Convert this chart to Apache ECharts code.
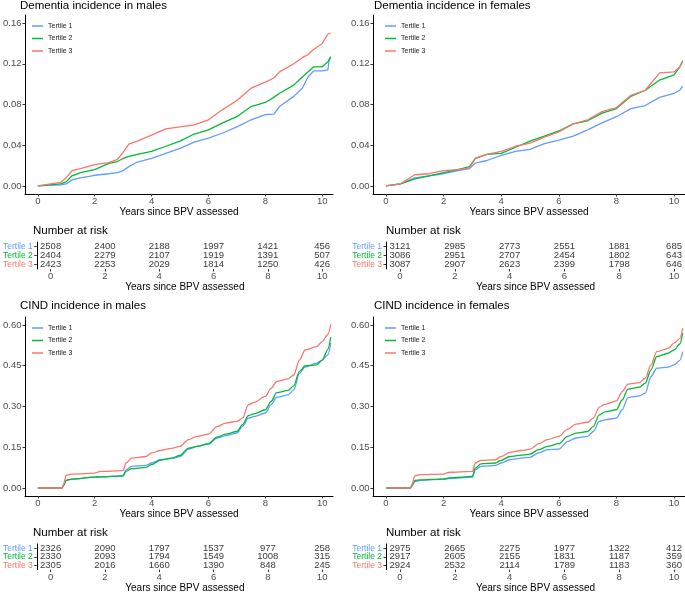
<!DOCTYPE html>
<html>
<head>
<meta charset="utf-8">
<script src="https://cdn.jsdelivr.net/npm/echarts@6/dist/echarts.min.js"></script>
<style>
html,body{margin:0;padding:0;background:#fff;}
#chart{width:685px;height:594px;}
</style>
</head>
<body>
<div id="chart"></div>
<script>
// ---------- DATA ----------
const tertiles = ['Tertile 1', 'Tertile 2', 'Tertile 3'];
const xTickValues = [0, 2, 4, 6, 8, 10];
const demYTicks = [0, 0.04, 0.08, 0.12, 0.16];
const cindYTicks = [0, 0.15, 0.30, 0.45, 0.60];

// Dementia incidence in males
const demMaleX  = [0, 0.8, 1.0, 1.2, 1.5, 2.0, 2.5, 2.8, 3.0, 3.2, 3.5, 4.0, 4.5, 5.0, 5.5, 6.0, 6.5, 7.0, 7.5, 8.0, 8.3, 8.5, 9.0, 9.3, 9.5, 9.7, 10.0, 10.2, 10.25, 10.3];
const demMaleT1 = [0, 0.001, 0.002, 0.006, 0.008, 0.0105, 0.012, 0.013, 0.015, 0.019, 0.0235, 0.027, 0.032, 0.037, 0.043, 0.047, 0.052, 0.058, 0.065, 0.070, 0.0705, 0.078, 0.088, 0.096, 0.107, 0.113, 0.113, 0.114, 0.125, 0.126];
const demMaleT2 = [0, 0.002, 0.004, 0.010, 0.013, 0.016, 0.0222, 0.024, 0.027, 0.029, 0.031, 0.034, 0.039, 0.044, 0.051, 0.055, 0.062, 0.068, 0.078, 0.082, 0.087, 0.091, 0.099, 0.107, 0.112, 0.117, 0.117, 0.122, 0.124, 0.127];
const demMaleT3 = [0, 0.0035, 0.008, 0.015, 0.017, 0.021, 0.023, 0.026, 0.033, 0.041, 0.044, 0.050, 0.056, 0.058, 0.060, 0.065, 0.075, 0.084, 0.096, 0.102, 0.106, 0.112, 0.120, 0.126, 0.129, 0.134, 0.140, 0.149, 0.150, 0.150];

// Dementia incidence in females
const demFemaleX  = [0, 0.5, 1.0, 1.5, 2.0, 2.5, 2.9, 3.1, 3.5, 4.0, 4.5, 5.0, 5.5, 6.0, 6.5, 7.0, 7.5, 8.0, 8.5, 9.0, 9.5, 10.0, 10.2, 10.3];
const demFemaleT1 = [0, 0.002, 0.008, 0.010, 0.012, 0.015, 0.017, 0.0225, 0.025, 0.030, 0.034, 0.036, 0.0415, 0.045, 0.049, 0.055, 0.062, 0.068, 0.076, 0.079, 0.087, 0.091, 0.094, 0.098];
const demFemaleT2 = [0, 0.002, 0.007, 0.010, 0.013, 0.016, 0.019, 0.027, 0.031, 0.032, 0.038, 0.044, 0.049, 0.054, 0.061, 0.064, 0.0715, 0.076, 0.088, 0.094, 0.104, 0.109, 0.117, 0.123];
const demFemaleT3 = [0, 0.002, 0.011, 0.012, 0.015, 0.016, 0.0175, 0.027, 0.031, 0.034, 0.039, 0.042, 0.048, 0.053, 0.061, 0.065, 0.073, 0.077, 0.089, 0.094, 0.111, 0.112, 0.117, 0.122];

// CIND incidence (shared time points)
const cindX = [0, 0.85, 0.9, 1.0, 1.2, 2.0, 2.2, 3.0, 3.1, 3.3, 3.8, 4.0, 4.3, 4.7, 5.0, 5.3, 5.6, 6.0, 6.3, 6.6, 7.0, 7.2, 7.4, 7.6, 8.0, 8.2, 8.4, 8.8, 9.0, 9.2, 9.4, 9.8, 10.0, 10.2, 10.3];
const cindMaleT1 = [0, 0, 0.008, 0.028, 0.033, 0.040, 0.041, 0.045, 0.067, 0.080, 0.083, 0.092, 0.104, 0.108, 0.116, 0.143, 0.153, 0.162, 0.184, 0.193, 0.202, 0.227, 0.257, 0.263, 0.276, 0.306, 0.334, 0.343, 0.361, 0.422, 0.445, 0.460, 0.471, 0.490, 0.533];
const cindMaleT2 = [0, 0, 0.008, 0.028, 0.033, 0.040, 0.041, 0.045, 0.061, 0.071, 0.076, 0.086, 0.102, 0.110, 0.120, 0.147, 0.153, 0.163, 0.187, 0.198, 0.208, 0.233, 0.266, 0.273, 0.288, 0.318, 0.351, 0.359, 0.376, 0.429, 0.450, 0.453, 0.471, 0.510, 0.555];
const cindMaleT3 = [0, 0, 0.012, 0.047, 0.051, 0.055, 0.061, 0.064, 0.092, 0.110, 0.116, 0.129, 0.138, 0.146, 0.153, 0.178, 0.190, 0.198, 0.226, 0.239, 0.245, 0.257, 0.306, 0.315, 0.337, 0.367, 0.392, 0.402, 0.416, 0.471, 0.508, 0.520, 0.539, 0.565, 0.602];
const cindFemaleT1 = [0, 0, 0.007, 0.024, 0.028, 0.033, 0.035, 0.040, 0.067, 0.080, 0.083, 0.092, 0.104, 0.110, 0.113, 0.129, 0.141, 0.143, 0.171, 0.184, 0.190, 0.208, 0.245, 0.251, 0.257, 0.288, 0.333, 0.339, 0.349, 0.410, 0.441, 0.445, 0.453, 0.470, 0.502];
const cindFemaleT2 = [0, 0, 0.008, 0.028, 0.030, 0.033, 0.037, 0.043, 0.073, 0.089, 0.092, 0.102, 0.116, 0.121, 0.125, 0.141, 0.153, 0.163, 0.190, 0.202, 0.208, 0.227, 0.269, 0.280, 0.288, 0.324, 0.364, 0.371, 0.386, 0.435, 0.484, 0.496, 0.508, 0.530, 0.570];
const cindFemaleT3 = [0, 0, 0.012, 0.045, 0.049, 0.051, 0.058, 0.061, 0.092, 0.102, 0.104, 0.116, 0.131, 0.138, 0.143, 0.163, 0.178, 0.190, 0.216, 0.235, 0.242, 0.257, 0.298, 0.308, 0.321, 0.355, 0.382, 0.388, 0.404, 0.453, 0.502, 0.514, 0.533, 0.550, 0.588];

// Number at risk
const riskYears = [0, 2, 4, 6, 8, 10];
const riskDemMaleT1 = [2508, 2400, 2188, 1997, 1421, 456];
const riskDemMaleT2 = [2404, 2279, 2107, 1919, 1391, 507];
const riskDemMaleT3 = [2423, 2253, 2029, 1814, 1250, 426];
const riskDemFemaleT1 = [3121, 2985, 2773, 2551, 1881, 685];
const riskDemFemaleT2 = [3086, 2951, 2707, 2454, 1802, 643];
const riskDemFemaleT3 = [3087, 2907, 2623, 2399, 1798, 646];
const riskCindMaleT1 = [2326, 2090, 1797, 1537, 977, 258];
const riskCindMaleT2 = [2330, 2093, 1794, 1549, 1008, 315];
const riskCindMaleT3 = [2305, 2016, 1660, 1390, 848, 245];
const riskCindFemaleT1 = [2975, 2665, 2275, 1977, 1322, 412];
const riskCindFemaleT2 = [2917, 2605, 2155, 1831, 1187, 359];
const riskCindFemaleT3 = [2924, 2532, 2114, 1789, 1183, 360];

// ---------- STYLE / LAYOUT ----------
const FONT = '"Liberation Sans", Arial, Helvetica, sans-serif';
const colors = ['#619CFF', '#00BA38', '#F8766D'];
const axisText = '#4D4D4D';

const plotGrids = [
  {left: 21, top: 15, width: 312, height: 179},
  {left: 373, top: 15, width: 312, height: 179},
  {left: 21, top: 317, width: 312, height: 179},
  {left: 373, top: 317, width: 312, height: 179}
];
const tableGrids = [
  {left: 34, top: 242, width: 299, height: 27},
  {left: 386, top: 242, width: 299, height: 27},
  {left: 34, top: 544, width: 299, height: 27},
  {left: 386, top: 544, width: 299, height: 27}
];
const grids = plotGrids.concat(tableGrids);

function xAxisFor(gi, min, max, lineColor, lineWidth) {
  return {
    gridIndex: gi, type: 'value', min: min, max: max,
    axisLine: {onZero: false, lineStyle: {color: lineColor, width: lineWidth}},
    axisTick: {show: true, length: 2.5, lineStyle: {color: '#333', width: 1}, customValues: xTickValues},
    axisLabel: {customValues: xTickValues, fontSize: 9.5, color: axisText, margin: 2.5, fontFamily: FONT},
    splitLine: {show: false},
    name: 'Years since BPV assessed', nameLocation: 'middle', nameGap: 13,
    nameTextStyle: {fontSize: 10, color: '#000', fontFamily: FONT}
  };
}
function yAxisPlot(gi, min, max, ticks) {
  return {
    gridIndex: gi, type: 'value', min: min, max: max,
    axisLine: {show: true, onZero: false, lineStyle: {color: '#000', width: 1}},
    axisTick: {show: true, length: 2.5, lineStyle: {color: '#333', width: 1}, customValues: ticks},
    axisLabel: {customValues: ticks, fontSize: 9.5, color: axisText, margin: 3.5, fontFamily: FONT,
      formatter: v => v.toFixed(2)},
    splitLine: {show: false}
  };
}
function yAxisTable(gi) {
  return {
    gridIndex: gi, type: 'category', data: tertiles, inverse: true,
    axisLine: {show: true, onZero: false, lineStyle: {color: '#000', width: 1}},
    axisTick: {show: true, alignWithLabel: true, interval: 0, length: 2.5, lineStyle: {color: '#333'}},
    axisLabel: {fontSize: 8.5, margin: 4, interval: 0, fontFamily: FONT,
      color: (v, i) => colors[tertiles.indexOf(v)]},
    splitLine: {show: false}
  };
}

const xAxes = [
  xAxisFor(0, -0.45, 10.38, '#000', 1), xAxisFor(1, -0.45, 10.38, '#000', 1),
  xAxisFor(2, -0.45, 10.38, '#000', 1), xAxisFor(3, -0.45, 10.38, '#000', 1),
  xAxisFor(4, -0.51, 10.4, '#555', 1.6), xAxisFor(5, -0.51, 10.4, '#555', 1.6),
  xAxisFor(6, -0.51, 10.4, '#555', 1.6), xAxisFor(7, -0.51, 10.4, '#555', 1.6)
];
const yAxes = [
  yAxisPlot(0, -0.0079, 0.1679, demYTicks), yAxisPlot(1, -0.0079, 0.1679, demYTicks),
  yAxisPlot(2, -0.0294, 0.6294, cindYTicks), yAxisPlot(3, -0.0294, 0.6294, cindYTicks),
  yAxisTable(4), yAxisTable(5), yAxisTable(6), yAxisTable(7)
];

function zip(xs, ys) { return xs.map((x, i) => [x, ys[i]]); }

const series = [];
function addCurves(axisIdx, xs, arrs, smoothness) {
  arrs.forEach((ys, k) => {
    series.push({
      type: 'line', name: tertiles[k], xAxisIndex: axisIdx, yAxisIndex: axisIdx,
      data: zip(xs, ys), smooth: smoothness,
      smoothMonotone: 'x', symbol: 'none', showSymbol: false, color: colors[k],
      lineStyle: {color: colors[k], width: 1.3}, itemStyle: {color: colors[k]},
      silent: true, animation: false
    });
  });
}
addCurves(0, demMaleX, [demMaleT1, demMaleT2, demMaleT3], false);
addCurves(1, demFemaleX, [demFemaleT1, demFemaleT2, demFemaleT3], false);
addCurves(2, cindX, [cindMaleT1, cindMaleT2, cindMaleT3], 0.3);
addCurves(3, cindX, [cindFemaleT1, cindFemaleT2, cindFemaleT3], 0.3);

function addTable(axisIdx, arrs, id) {
  const data = [];
  arrs.forEach((vals, k) => {
    vals.forEach((n, i) => data.push([riskYears[i], k, n]));
  });
  series.push({
    type: 'scatter', name: 'risk' + id, xAxisIndex: axisIdx, yAxisIndex: axisIdx,
    data: data, symbolSize: 2, itemStyle: {color: 'rgba(0,0,0,0)'}, silent: true, animation: false,
    encode: {x: 0, y: 1},
    label: {show: true, position: 'inside', formatter: p => String(p.value[2]),
      fontSize: 9.5, color: '#000', fontFamily: FONT}
  });
}
addTable(4, [riskDemMaleT1, riskDemMaleT2, riskDemMaleT3], 0);
addTable(5, [riskDemFemaleT1, riskDemFemaleT2, riskDemFemaleT3], 1);
addTable(6, [riskCindMaleT1, riskCindMaleT2, riskCindMaleT3], 2);
addTable(7, [riskCindFemaleT1, riskCindFemaleT2, riskCindFemaleT3], 3);

function titleAt(text, left, top) {
  return {text: text, left: left, top: top, padding: 0,
    textStyle: {fontSize: 11.5, fontWeight: 'normal', color: '#000', fontFamily: FONT}};
}
const titles = [
  titleAt('Dementia incidence in males', 20, 0),
  titleAt('Dementia incidence in females', 374, 0),
  titleAt('CIND incidence in males', 20, 300),
  titleAt('CIND incidence in females', 374, 300),
  titleAt('Number at risk', 33, 225),
  titleAt('Number at risk', 386, 225),
  titleAt('Number at risk', 33, 527),
  titleAt('Number at risk', 386, 527)
];

function legendAt(left, top) {
  return {data: tertiles, orient: 'vertical', left: left, top: top, padding: 0,
    icon: 'rect', itemWidth: 11, itemHeight: 1.5, itemGap: 4.5, selectedMode: false,
    textStyle: {fontSize: 7, color: '#222', fontFamily: FONT, lineHeight: 8}};
}
const legends = [legendAt(32, 22), legendAt(385, 22), legendAt(32, 324), legendAt(385, 324)];

const chart = echarts.init(document.getElementById('chart'), null, {renderer: 'canvas'});
chart.setOption({
  animation: false,
  backgroundColor: '#fff',
  title: titles,
  legend: legends,
  grid: grids,
  xAxis: xAxes,
  yAxis: yAxes,
  series: series
});
</script>
</body>
</html>
